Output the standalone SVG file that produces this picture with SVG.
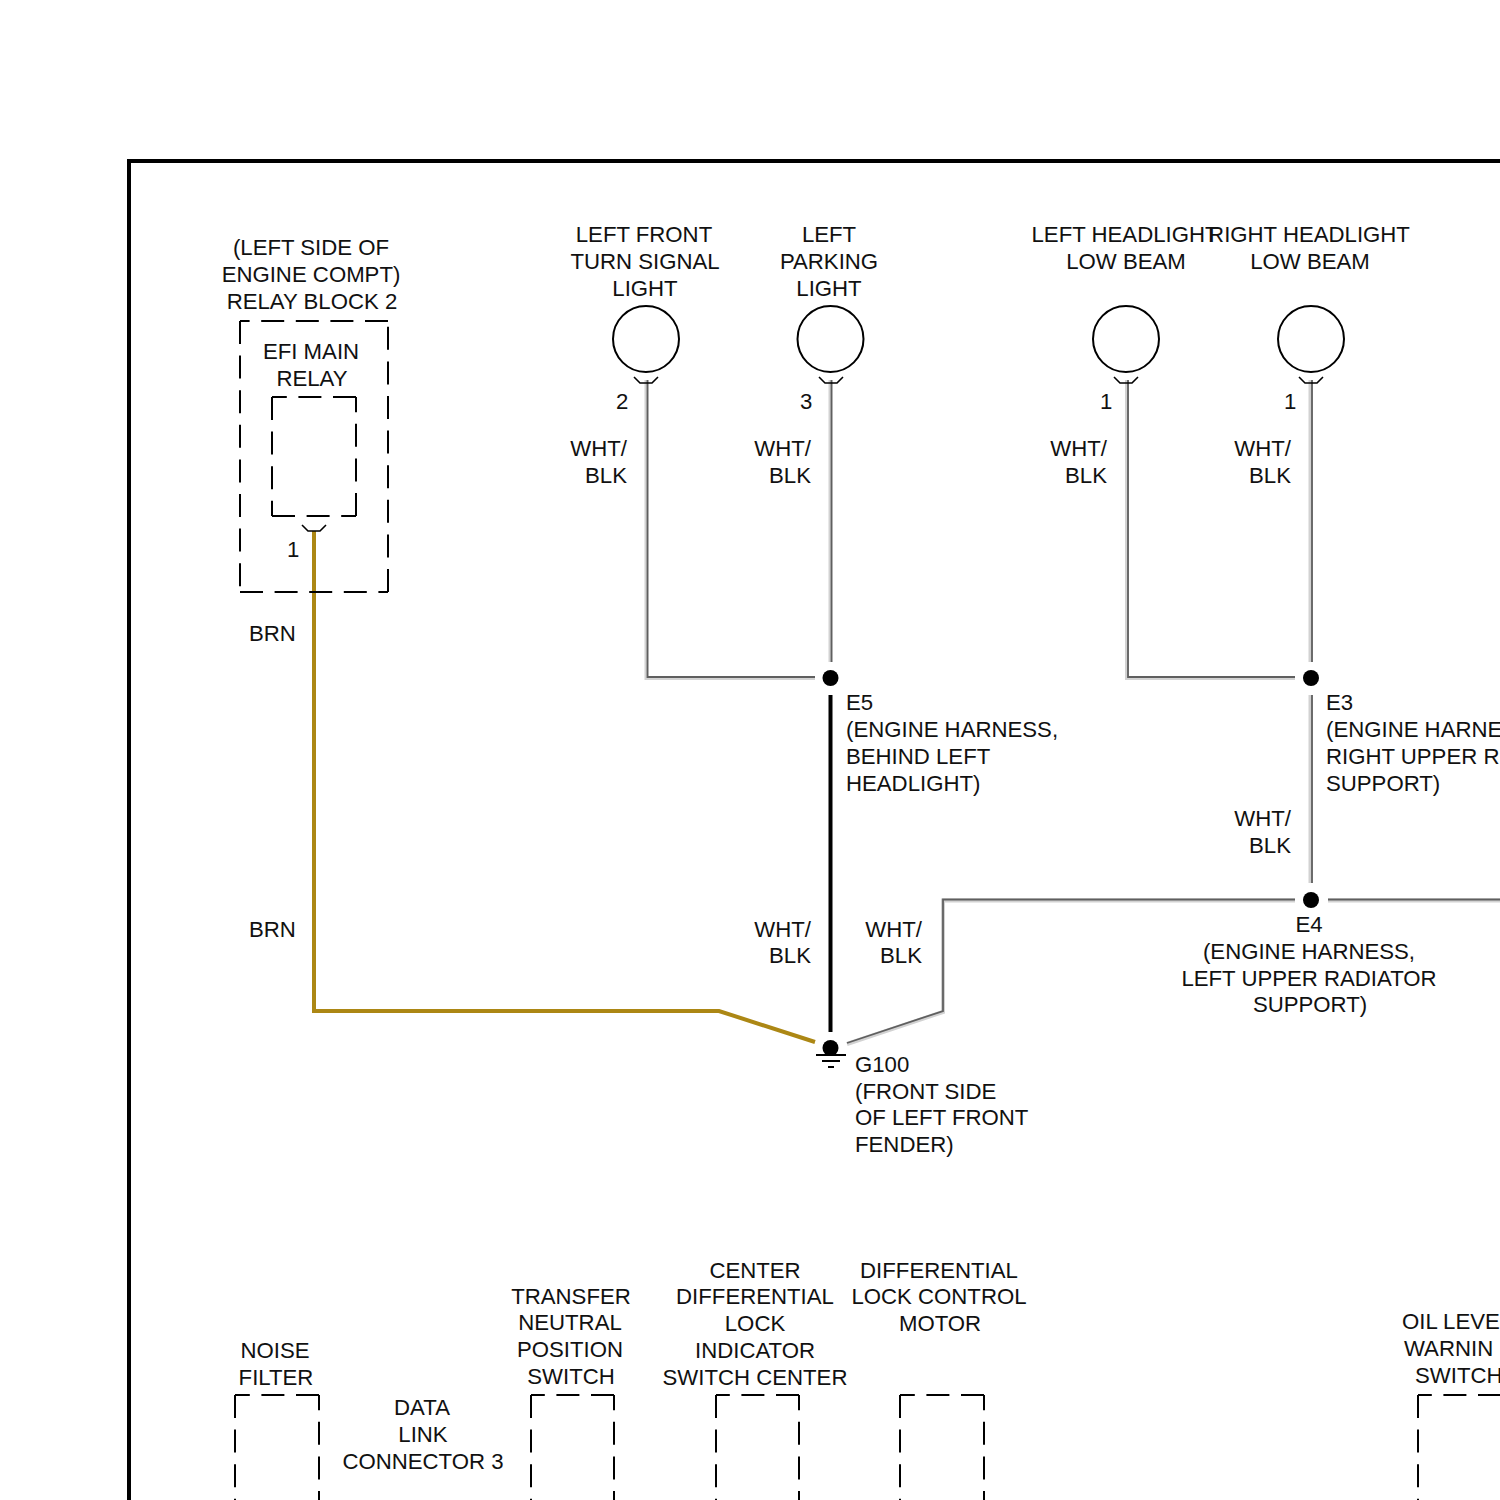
<svg xmlns="http://www.w3.org/2000/svg" width="1500" height="1500" viewBox="0 0 1500 1500">
<style>
text{font-family:"Liberation Sans",Arial,sans-serif;font-size:22.2px;fill:#111}
.m{text-anchor:middle}.e{text-anchor:end}
.d{fill:none;stroke:#000;stroke-width:2;stroke-dasharray:23 11.6}
.c{fill:#fff;stroke:#000;stroke-width:2}
.p{fill:none;stroke:#000;stroke-width:1.6}
.sh{fill:none;stroke:#d2d2d2;stroke-width:4;stroke-linejoin:miter}
.w{fill:none;stroke:#5f5f5f;stroke-width:1.8;stroke-linejoin:miter}
.b{fill:none;stroke:#ac8714;stroke-width:4}
.k{fill:none;stroke:#000;stroke-width:4}
.j{fill:#000}
</style>
<rect width="1500" height="1500" fill="#fff"/>
<path d="M1500 161H129V1500" fill="none" stroke="#000" stroke-width="4"/>
<g id="connectors">
<path class="sh" d="M646.500 380V678H815M830.500 380V662M1127 380V678H1295M1310.500 380V662M1310.500 695V883M1500 900.500H1328M1295 900.500H943V1012L847 1044"/>
<path class="w" d="M647.500 380V677H815M831.500 380V662M1128 380V677H1295M1312 380V662M1312 695V883M1500 899.500H1328M1295 899.500H943V1011L847 1043"/>
<path class="k" d="M830.500 695V1032"/>
<path class="b" d="M314 531V1011H719L815 1042"/>
</g>
<g id="frame-relay-block"><path class="d" d="M388 321H240M240 321V592M240 592H388M388 592V321"/><text class="m" x="311" y="255">(LEFT SIDE OF</text><text class="m" x="311" y="282">ENGINE COMPT)</text><text class="m" x="312" y="309">RELAY BLOCK 2</text></g>
<g id="efi-main-relay"><path class="d" d="M356 397H272M272 397V516M272 516H356M356 516V397"/><text class="m" x="311" y="359">EFI MAIN</text><text class="m" x="312" y="386">RELAY</text><path class="p" d="M302 525L308 531H320L326 525"/><text x="287" y="557">1</text><text x="249" y="641">BRN</text><text x="249" y="937">BRN</text></g>
<g id="left-front-turn"><circle class="c" cx="646" cy="339" r="33"/><path class="p" d="M634 377L640 383H652L658 377"/><text class="m" x="644" y="242">LEFT FRONT</text><text class="m" x="645" y="269">TURN SIGNAL</text><text class="m" x="645" y="296">LIGHT</text><text x="616" y="409">2</text><text class="e" x="627" y="456">WHT/</text><text class="e" x="627" y="483">BLK</text></g>
<g id="left-parking"><circle class="c" cx="830.500" cy="339" r="33"/><path class="p" d="M819 377L825 383H837L843 377"/><text class="m" x="829" y="242">LEFT</text><text class="m" x="829" y="269">PARKING</text><text class="m" x="829" y="296">LIGHT</text><text x="800" y="409">3</text><text class="e" x="811" y="456">WHT/</text><text class="e" x="811" y="483">BLK</text></g>
<g id="left-headlight"><circle class="c" cx="1126" cy="339" r="33"/><path class="p" d="M1114 377L1120 383H1132L1138 377"/><text class="m" x="1125" y="242">LEFT HEADLIGHT</text><text class="m" x="1126" y="269">LOW BEAM</text><text x="1100" y="409">1</text><text class="e" x="1107" y="456">WHT/</text><text class="e" x="1107" y="483">BLK</text></g>
<g id="right-headlight"><circle class="c" cx="1311" cy="339" r="33"/><path class="p" d="M1299 377L1305 383H1317L1323 377"/><text class="m" x="1309" y="242">RIGHT HEADLIGHT</text><text class="m" x="1310" y="269">LOW BEAM</text><text x="1284" y="409">1</text><text class="e" x="1291" y="456">WHT/</text><text class="e" x="1291" y="483">BLK</text></g>
<g id="e5"><circle class="j" cx="830.500" cy="678" r="8"/><text x="846" y="710">E5</text><text x="846" y="737">(ENGINE HARNESS,</text><text x="846" y="764">BEHIND LEFT</text><text x="846" y="791">HEADLIGHT)</text></g>
<g id="e3"><circle class="j" cx="1311" cy="678" r="8"/><text x="1326" y="710">E3</text><text x="1326" y="737">(ENGINE HARNE</text><text x="1326" y="764">RIGHT UPPER R</text><text x="1326" y="791">SUPPORT)</text><text class="e" x="1291" y="826">WHT/</text><text class="e" x="1291" y="853">BLK</text></g>
<g id="e4"><circle class="j" cx="1311" cy="900" r="8"/><text class="m" x="1309" y="932">E4</text><text class="m" x="1309" y="959">(ENGINE HARNESS,</text><text class="m" x="1309" y="986">LEFT UPPER RADIATOR</text><text class="m" x="1310" y="1012">SUPPORT)</text></g>
<g id="g100"><circle class="j" cx="830.500" cy="1048" r="8"/><path fill="none" stroke="#000" stroke-width="2" d="M816 1055H846M822 1061H840M828 1067H834"/><text x="855" y="1072">G100</text><text x="855" y="1099">(FRONT SIDE</text><text x="855" y="1125">OF LEFT FRONT</text><text x="855" y="1152">FENDER)</text><text class="e" x="811" y="937">WHT/</text><text class="e" x="811" y="963">BLK</text><text class="e" x="922" y="937">WHT/</text><text class="e" x="922" y="963">BLK</text></g>
<g id="noise-filter"><path class="d" d="M319 1395H235M235 1395V1500M319 1514V1395"/><text class="m" x="275" y="1358">NOISE</text><text class="m" x="276" y="1385">FILTER</text></g>
<g id="data-link"><text class="m" x="422" y="1415">DATA</text><text class="m" x="423" y="1442">LINK</text><text class="m" x="423" y="1469">CONNECTOR 3</text></g>
<g id="transfer-switch"><path class="d" d="M614 1395H531M531 1395V1500M614 1514V1395"/><text class="m" x="571" y="1304">TRANSFER</text><text class="m" x="570" y="1330">NEUTRAL</text><text class="m" x="570" y="1357">POSITION</text><text class="m" x="571" y="1384">SWITCH</text></g>
<g id="center-diff-switch"><path class="d" d="M799 1395H716M716 1395V1500M799 1514V1395"/><text class="m" x="755" y="1278">CENTER</text><text class="m" x="755" y="1304">DIFFERENTIAL</text><text class="m" x="755" y="1331">LOCK</text><text class="m" x="755" y="1358">INDICATOR</text><text class="m" x="755" y="1385">SWITCH CENTER</text></g>
<g id="diff-motor"><path class="d" d="M984 1395H900M900 1395V1500M984 1514V1395"/><text class="m" x="939" y="1278">DIFFERENTIAL</text><text class="m" x="939" y="1304">LOCK CONTROL</text><text class="m" x="940" y="1331">MOTOR</text></g>
<g id="oil-switch"><path class="d" d="M1501 1395H1418M1418 1395V1500"/><text x="1402" y="1329">OIL LEVE</text><text x="1404" y="1356">WARNIN</text><text x="1415" y="1383">SWITCH</text></g>
</svg>
